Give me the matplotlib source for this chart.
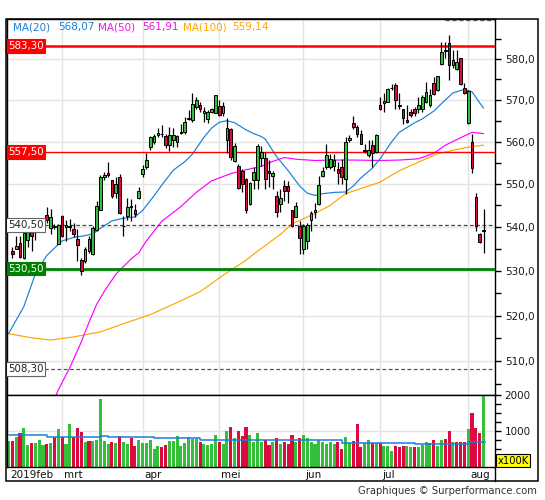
import numpy as np
import matplotlib
matplotlib.use('Agg')
import matplotlib.pyplot as plt
from matplotlib.ticker import FixedLocator, NullFormatter, FixedFormatter
from matplotlib.patches import Rectangle
from matplotlib.lines import Line2D
import matplotlib.transforms as mtransforms

# ---------------- data (trading days 11 feb 2019 .. 7 aug 2019) ----------------
opens = [539.6, 534.5, 535.0, 536.4, 533.0, 537.0, 539.3, 539.0, 540.0, 540.5,
         542.7, 539.8, 540.3, 536.2, 542.5, 540.0, 539.9, 539.6, 537.2, 532.4,
         532.2, 534.5, 533.8, 539.4, 544.0, 551.6, 552.6, 550.8, 547.8, 551.6,
         540.2, 542.5, 544.9, 544.0, 546.7, 552.3, 553.9, 558.7, 559.9, 561.6,
         561.8, 561.3, 559.2, 560.3, 559.9, 562.0, 562.2, 565.5, 565.1, 568.3,
         568.9, 566.8, 565.5, 567.1, 566.9, 568.5, 566.9, 560.3, 563.1, 555.4,
         554.3, 553.1, 551.1, 545.4, 550.8, 550.8, 556.2, 556.2, 553.1, 551.8,
         547.2, 545.4, 549.4, 549.4, 543.8, 542.3, 540.2, 534.9, 536.8, 541.5,
         543.5, 545.4, 551.9, 553.9, 553.9, 554.1, 553.5, 553.9, 551.1, 560.3,
         564.5, 563.4, 561.7, 557.8, 556.7, 559.1, 557.5, 568.9, 569.3, 569.5,
         572.9, 573.6, 568.6, 567.7, 565.2, 567.1, 567.7, 567.8, 567.9, 569.5,
         568.7, 574.1, 572.4, 578.7, 582.0, 584.0, 578.5, 577.5, 580.2, 572.8,
         564.5, 560.0, 547.0, 538.3, 539.0]
closes = [540.6, 533.7, 535.7, 533.2, 538.7, 540.3, 538.0, 540.2, 541.0, 541.2,
          541.7, 542.4, 539.9, 540.4, 538.0, 540.4, 540.3, 538.3, 535.9, 530.0,
          534.9, 537.2, 539.8, 544.8, 551.6, 552.1, 552.0, 547.1, 550.0, 543.3,
          540.3, 544.7, 544.6, 542.9, 548.4, 553.6, 555.5, 561.1, 561.3, 562.1,
          561.9, 559.2, 561.5, 561.5, 561.3, 562.2, 564.7, 565.7, 569.1, 570.1,
          567.9, 567.3, 567.0, 567.7, 571.1, 566.3, 568.5, 563.3, 556.3, 558.9,
          549.1, 550.0, 543.8, 550.3, 552.7, 558.9, 557.5, 551.1, 552.5, 552.5,
          543.4, 546.7, 548.4, 548.4, 540.1, 544.9, 537.5, 540.2, 540.4, 543.1,
          543.8, 549.8, 552.9, 556.7, 555.9, 555.6, 552.5, 551.6, 559.9, 560.9,
          563.4, 561.7, 559.5, 558.0, 557.9, 557.2, 561.5, 567.9, 569.8, 572.6,
          573.0, 569.9, 568.7, 565.7, 564.7, 566.4, 566.9, 568.9, 570.7, 572.0,
          571.1, 571.5, 575.8, 581.8, 582.2, 578.5, 579.8, 579.3, 574.0, 571.6,
          572.2, 553.7, 540.2, 536.6, 539.2]
highs = [541.3, 535.3, 538.0, 538.0, 539.9, 541.5, 540.5, 540.8, 541.8, 542.0,
         544.6, 544.2, 540.6, 540.6, 542.8, 541.5, 541.8, 540.8, 539.5, 533.0,
         535.4, 538.0, 540.1, 546.0, 552.0, 552.7, 555.2, 551.0, 551.6, 552.2,
         542.6, 546.7, 546.4, 545.4, 549.2, 554.5, 557.2, 561.3, 561.9, 563.3,
         563.9, 561.8, 563.5, 563.3, 561.5, 564.3, 565.8, 567.5, 571.6, 570.7,
         569.5, 568.3, 567.5, 568.0, 571.3, 569.9, 569.5, 565.6, 563.2, 559.7,
         554.7, 553.5, 551.4, 550.5, 553.9, 559.3, 558.9, 557.5, 555.5, 553.1,
         548.4, 548.8, 550.8, 550.6, 543.9, 545.7, 541.4, 540.7, 541.0, 543.6,
         545.5, 551.8, 553.9, 559.3, 557.1, 557.0, 555.1, 555.9, 561.1, 561.5,
         566.1, 563.9, 562.8, 559.3, 560.3, 560.3, 561.9, 570.8, 571.6, 572.8,
         574.0, 574.1, 571.6, 567.9, 568.7, 567.7, 568.3, 570.7, 571.1, 574.5,
         572.6, 575.6, 575.8, 584.3, 584.3, 586.0, 582.2, 582.2, 580.2, 574.1,
         572.4, 561.9, 547.9, 538.7, 544.2]
lows = [539.2, 533.0, 534.9, 533.0, 532.6, 535.5, 534.5, 537.0, 539.0, 539.5,
        541.0, 538.3, 539.6, 536.0, 537.8, 536.8, 539.0, 537.8, 532.2, 529.1,
        531.8, 534.1, 533.6, 539.0, 543.8, 551.0, 551.5, 546.8, 546.8, 543.0,
        538.0, 541.5, 541.4, 542.3, 546.4, 551.6, 553.6, 557.9, 559.4, 561.1,
        561.1, 558.5, 557.7, 558.7, 558.7, 561.9, 561.9, 565.1, 564.7, 567.9,
        567.1, 564.7, 564.4, 566.8, 566.8, 566.1, 566.1, 557.2, 555.5, 555.1,
        548.8, 548.1, 543.1, 545.0, 548.8, 548.8, 554.1, 548.8, 549.2, 548.8,
        542.3, 543.4, 546.1, 545.5, 540.0, 542.3, 533.8, 533.8, 534.9, 539.1,
        542.0, 545.0, 551.6, 553.5, 553.5, 553.0, 549.9, 549.9, 547.7, 560.0,
        563.1, 561.1, 559.3, 557.2, 556.3, 553.9, 557.2, 567.5, 567.1, 569.4,
        572.4, 567.9, 567.9, 564.3, 564.4, 565.8, 566.2, 566.8, 567.1, 569.3,
        568.3, 571.2, 572.2, 578.5, 580.2, 574.8, 577.7, 577.3, 573.6, 571.4,
        564.3, 552.5, 539.1, 536.4, 534.1]
volumes = [722, 722, 833, 954, 1093, 611, 676, 676, 750, 611,
           648, 676, 843, 1056, 843, 648, 1204, 843, 1093, 982,
           704, 722, 722, 750, 1889, 722, 648, 694, 676, 861,
           694, 639, 815, 583, 750, 676, 676, 750, 500, 583,
           556, 602, 722, 722, 861, 583, 676, 833, 787, 787,
           700, 650, 600, 650, 900, 700, 650, 1000, 1100, 800,
           1000, 850, 1100, 900, 700, 950, 700, 750, 600, 700,
           800, 650, 700, 650, 900, 700, 800, 900, 800, 700,
           650, 750, 700, 650, 700, 650, 700,
           500, 836, 655, 718, 1182, 564, 655, 745, 655, 655,
           655, 582, 582, 455, 582, 564, 582, 582, 564, 564,
           564, 618, 700, 655, 745, 582, 745, 782, 991, 700,
           682, 700, 700, 1045, 1490, 1082, 945, 2010]
volume_dir = ("grgrggrggg" "rgrgrggrrr" "grgggggrgr" "ggrrgggggg" "rrgggggggg"
              "rggggrggrg" "rrrggggrrg" "rgrrrgrggg" "ggggggr"
              "rggrrrggrg" "rgggrrrggr" "ggggrggrrg" "rrrgrrrg")
vol_ma_day = [0, 10, 20, 24, 26, 38, 50, 87, 106, 120, 124.5]
vol_ma_val = [889, 843, 824, 861, 824, 796, 760, 655, 630, 685, 685]

ma20_day = [0, 4, 7, 10, 14, 17, 20, 22, 24, 27, 30, 33, 35, 38, 40, 43, 46, 48, 51, 53,
            55, 57, 59, 62, 64, 66, 67, 70, 73, 76, 78, 80, 82, 85, 88, 90, 92, 95, 97,
            100, 102, 106, 108, 111, 113, 116, 119, 121, 123, 124]
ma20_val = [516.0, 522.0, 529.3, 533.5, 536.8, 537.6, 538.0, 538.4, 539.7, 541.4, 542.0,
            542.3, 543.8, 547.2, 549.7, 553.2, 555.2, 557.0, 561.0, 563.2, 564.6, 565.0,
            564.5, 562.8, 561.9, 561.2, 560.6, 556.4, 553.1, 549.5, 547.8, 547.3, 547.7,
            548.0, 548.1, 549.5, 551.4, 553.7, 555.9, 559.9, 562.2, 564.5, 565.4, 567.3,
            569.1, 571.7, 572.6, 572.0, 569.3, 568.07]
ma50_day = [11, 13, 16, 19, 21, 23, 25, 28, 32, 34, 36, 40, 45, 49, 53, 58, 62, 66, 69,
            72, 75, 80, 85, 90, 97, 102, 107, 111, 114, 118, 121, 124]
ma50_val = [500.0, 503.8, 508.6, 514.2, 518.5, 522.5, 525.4, 529.2, 532.7, 534.1, 536.8,
            541.3, 544.7, 548.0, 550.7, 552.4, 553.3, 554.1, 555.3, 556.2, 555.8, 555.5,
            555.6, 555.6, 555.5, 555.6, 555.9, 557.2, 559.1, 560.9, 562.2, 561.91]
ma100_day = [0, 6, 11, 17, 24, 30, 37, 43, 50, 56, 62, 64, 71, 74, 80, 84, 88, 93, 97,
             102, 107, 112, 118, 121, 124]
ma100_val = [516.0, 515.1, 514.6, 515.3, 516.4, 518.2, 520.2, 522.5, 525.3, 529.0, 532.4,
             533.8, 538.3, 540.7, 543.1, 545.0, 547.7, 549.2, 550.4, 553.1, 555.1, 557.1,
             558.3, 558.8, 559.14]

month_day = [0, 14, 35, 55, 77, 97, 120]
month_lbl = ["2019feb", "mrt", "apr", "mei", "jun", "jul", "aug"]

price_ticks = [510, 520, 530, 540, 550, 560, 570, 580]
price_minor = [505, 515, 525, 535, 545, 555, 565, 575, 585]
vol_ticks = [1000, 2000]

levels = [583.30, 557.50, 540.50, 530.50, 508.30]
level_lbl = ["583,30", "557,50", "540,50", "530,50", "508,30"]

# ---------------- figure ----------------
W, H = 545, 500
fig = plt.figure(figsize=(W / 100, H / 100), dpi=100)
fig.patch.set_facecolor('white')


def fx(p):
    return p / W


def fy(p):
    return 1 - p / H


ax = fig.add_axes([fx(7), fy(395), fx(495) - fx(7), fy(19) - fy(395)])
axv = fig.add_axes([fx(7), fy(467), fx(495) - fx(7), fy(395) - fy(467)])

n = len(opens)
xs = np.arange(n)
o = np.array(opens); c = np.array(closes); hi = np.array(highs); lo = np.array(lows)
GREEN = '#33bf3a'
RED = '#dc0a41'
BLUE = '#1a7fd8'
GRID = '#e4e4e4'
XLIM = (-0.4, 127.0)

# price axis
ax.set_yscale('log')
ax.set_ylim(502.7, 590.0)
ax.set_xlim(*XLIM)
ax.yaxis.set_major_locator(FixedLocator(price_ticks))
ax.yaxis.set_major_formatter(FixedFormatter([f"{v:.1f}".replace('.', ',') for v in price_ticks]))
ax.yaxis.set_minor_locator(FixedLocator(price_minor))
ax.yaxis.set_minor_formatter(NullFormatter())
ax.yaxis.tick_right()
ax.tick_params(axis='y', which='both', direction='out', length=4, width=1, colors='black',
               labelsize=7.5, pad=3, labelcolor='#1a1a1a')
ax.set_xticks(month_day[1:])
ax.tick_params(axis='x', length=0, labelbottom=False)
ax.grid(True, which='major', axis='both', color=GRID, lw=1, zorder=0)
ax.set_axisbelow(True)
for s in ax.spines.values():
    s.set_linewidth(1.0)
    s.set_color('black')

# moving averages
ax.plot(ma100_day, ma100_val, color='#ffa500', lw=0.85, zorder=2)
ax.plot(ma50_day, ma50_val, color='#ff00ff', lw=0.85, zorder=2)
ax.plot(ma20_day, ma20_val, color=BLUE, lw=0.85, zorder=2)

# level lines
ax.axhline(levels[0], color='#ff0000', lw=1.8, zorder=3)
ax.axhline(levels[1], color='#ff0000', lw=1.0, zorder=3)
ax.axhline(levels[2], color='#444444', lw=0.9, ls=(0, (3, 2)), zorder=3)
ax.axhline(levels[3], color='#008000', lw=2.0, zorder=3)
ax.axhline(levels[4], color='#555555', lw=0.9, ls=(0, (3, 2)), zorder=3)
ax.hlines(589.7, 114, 127, color='#555555', lw=1.0, ls=(0, (3, 2)), zorder=3)

# candles
ax.vlines(xs, lo, hi, color='black', lw=0.9, zorder=4)
body_lo = np.minimum(o, c)
body_h = np.maximum(np.abs(c - o), 0.12)
cols = [GREEN if cc >= oo else RED for oo, cc in zip(o, c)]
ax.bar(xs, body_h, bottom=body_lo, width=0.7, color=cols, edgecolor='black',
       linewidth=0.7, zorder=5)

# level labels
trans = mtransforms.blended_transform_factory(ax.transAxes, ax.transData)
styles = [('white', '#ff0000', '#ff0000'), ('white', '#ff0000', '#ff0000'),
          ('#222222', 'white', '#666666'), ('white', '#008000', '#008000'),
          ('#222222', 'white', '#666666')]
for lv, lb, (tc, fc, ec) in zip(levels, level_lbl, styles):
    ax.text(0.002, lv, lb, transform=trans, ha='left', va='center', fontsize=7.4,
            color=tc, zorder=8,
            bbox=dict(boxstyle='square,pad=0.18', fc=fc, ec=ec, lw=0.8))

# legend text
leg = [("MA(20)", BLUE, 13), ("568,07", BLUE, 58), ("MA(50)", '#ee11ee', 98),
       ("561,91", '#ee11ee', 142), ("MA(100)", '#ffa500', 183), ("559,14", '#ffa500', 232)]
for t, col, px in leg:
    fig.text(fx(px), fy(27), t, color=col, fontsize=7.5, ha='left', va='center')

# volume
axv.set_xlim(*XLIM)
axv.set_ylim(0, 2000)
vcols = [GREEN if d == 'g' else RED for d in volume_dir]
axv.bar(xs, volumes, width=0.8, color=vcols, linewidth=0, zorder=2)
axv.plot(vol_ma_day, vol_ma_val, color=BLUE, lw=1.1, drawstyle='steps-post', zorder=3)
axv.yaxis.tick_right()
axv.yaxis.set_major_locator(FixedLocator(vol_ticks))
axv.yaxis.set_major_formatter(FixedFormatter([str(v) for v in vol_ticks]))
axv.yaxis.set_minor_locator(FixedLocator([250, 500, 750, 1250, 1500, 1750]))
axv.tick_params(axis='y', which='both', direction='out', length=4, width=1, colors='black',
                labelsize=7.5, pad=3, labelcolor='#1a1a1a')
axv.set_xticks(month_day[1:])
axv.tick_params(axis='x', length=0, labelbottom=False)
axv.grid(True, which='major', axis='both', color=GRID, lw=1, zorder=0)
axv.set_axisbelow(True)
for s in axv.spines.values():
    s.set_linewidth(1.0)
    s.set_color('black')

tv = mtransforms.blended_transform_factory(axv.transData, axv.transAxes)
for d, lb in zip(month_day, month_lbl):
    axv.text(d + 0.5, -0.105, lb, transform=tv, ha='left', va='center', fontsize=7.5,
             color='#111111')

axv.text(1.005, 0.09, "x100K", transform=axv.transAxes, ha='left', va='center',
         fontsize=7.2, color='black', clip_on=False,
         bbox=dict(boxstyle='square,pad=0.15', fc='#ffff00', ec='black', lw=0.8))

# outer frame
fig.add_artist(Rectangle((fx(6), fy(481)), fx(538) - fx(6), fy(19) - fy(481),
                         transform=fig.transFigure, fill=False, ec='black', lw=1.1))
fig.add_artist(Line2D([fx(495), fx(495)], [fy(467), fy(481)], transform=fig.transFigure,
                      color='black', lw=1.0))

fig.text(fx(537), fy(491), "Graphiques \u00a9 Surperformance.com", ha='right', va='center',
         fontsize=7.2, color='#333333')

fig.savefig('out.png', dpi=100)
